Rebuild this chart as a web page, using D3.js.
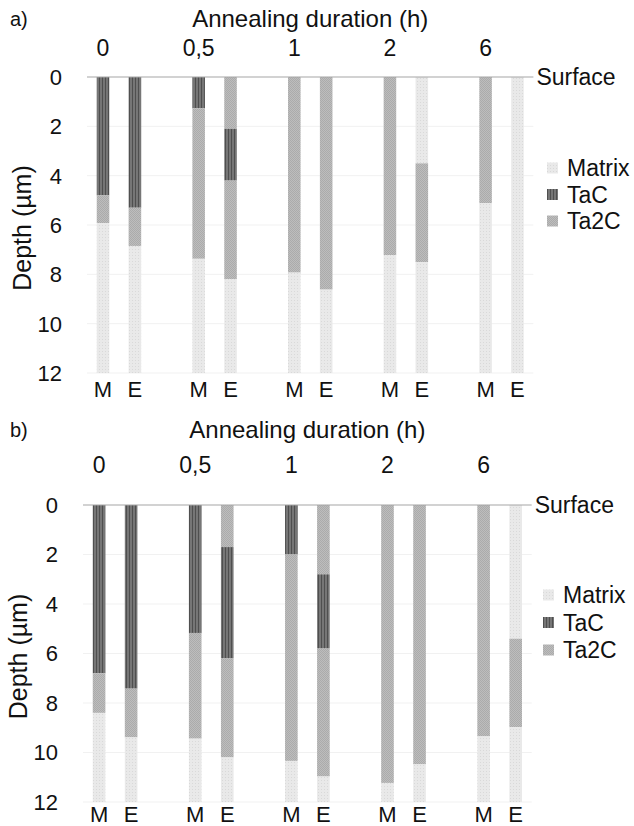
<!DOCTYPE html>
<html><head><meta charset="utf-8">
<script src="https://cdn.jsdelivr.net/npm/d3@7"></script>
<style>
body{margin:0;background:#fff;}
text{font-family:"Liberation Sans",Arial,sans-serif;fill:#111;}
</style></head>
<body><svg id="c" width="634" height="826"></svg>
<script>
// ---- data ----
const groups = ["0", "0,5", "1", "2", "6"];
const barLabels = ["M", "E"];
const depthTicks = [0, 2, 4, 6, 8, 10, 12];
const phases = ["Matrix", "TaC", "Ta2C"];
// layer thicknesses (µm), bars in order M0,E0,M0.5,E0.5,M1,E1,M2,E2,M6,E6 (top to bottom)
const a_matrixTop = [0, 0, 0, 0, 0, 0, 0, 3.5, 0, 12];
const a_ta2cTop   = [0, 0, 0, 2.1, 0, 0, 0, 0, 0, 0];
const a_tac       = [4.8, 5.3, 1.27, 2.1, 0, 0, 0, 0, 0, 0];
const a_ta2c      = [1.12, 1.55, 6.1, 4.0, 7.93, 8.62, 7.22, 4.0, 5.12, 0];
const a_matrix    = [6.08, 5.15, 4.63, 3.8, 4.07, 3.38, 4.78, 4.5, 6.88, 0];

const b_matrixTop = [0, 0, 0, 0, 0, 0, 0, 0, 0, 5.4];
const b_ta2cTop   = [0, 0, 0, 1.7, 0, 2.8, 0, 0, 0, 0];
const b_tac       = [6.8, 7.42, 5.17, 4.5, 2.0, 3.0, 0, 0, 0, 0];
const b_ta2c      = [1.6, 1.97, 4.27, 4.0, 8.34, 5.17, 11.23, 10.48, 9.35, 3.58];
const b_matrix    = [3.6, 2.61, 2.56, 1.8, 1.66, 1.03, 0.77, 1.52, 2.65, 3.02];

const layerKeys = ["matrixTop", "ta2cTop", "tac", "ta2c", "matrix"];
const layerPhase = {matrixTop: "Matrix", ta2cTop: "Ta2C", tac: "TaC", ta2c: "Ta2C", matrix: "Matrix"};

// ---- patterns ----
const svg = d3.select("#c");
const defs = svg.append("defs");
function pat(id, base, w, h, draw) {
  const p = defs.append("pattern").attr("id", id).attr("patternUnits", "userSpaceOnUse")
    .attr("width", w).attr("height", h);
  p.append("rect").attr("width", w).attr("height", h).attr("fill", base);
  draw(p);
}
pat("pMatrix", "#e9e9e9", 3, 3, p => p.append("rect").attr("width", 1).attr("height", 1).attr("fill", "#d9d9d9"));
pat("pTaC", "#767676", 3, 3, p => p.append("rect").attr("width", 1).attr("height", 3).attr("fill", "#4f4f4f"));
pat("pTa2C", "#bdbdbd", 2, 2, p => {
  p.append("rect").attr("width", 1).attr("height", 1).attr("fill", "#ababab");
  p.append("rect").attr("x", 1).attr("y", 1).attr("width", 1).attr("height", 1).attr("fill", "#ababab");
});
const fillOf = {Matrix: "url(#pMatrix)", TaC: "url(#pTaC)", Ta2C: "url(#pTa2C)"};

function buildRows(arrs) {
  const rows = [];
  groups.forEach((g, gi) => barLabels.forEach((b, bi) => {
    const i = gi * 2 + bi, r = {slot: b + "_" + g};
    layerKeys.forEach((k, ki) => r[k] = arrs[ki][i]);
    rows.push(r);
  }));
  return rows;
}

function panel(cfg) {
  const slots = [];
  groups.forEach(g => { slots.push("gap_" + g); barLabels.forEach(b => slots.push(b + "_" + g)); });
  const x = d3.scaleBand().domain(slots).range([cfg.x0, cfg.x1]).paddingInner(0.606).paddingOuter(0.303);
  const y = d3.scaleLinear().domain([0, 12]).range([cfg.y0, cfg.y1]);
  const g = svg.append("g");

  // gridlines
  g.selectAll("line.grid").data(depthTicks.filter(d => d > 0)).join("line")
    .attr("x1", cfg.lineStart).attr("x2", cfg.x1).attr("y1", d => y(d)).attr("y2", d => y(d))
    .attr("stroke", "#f1f1f1").attr("stroke-width", 1);

  // bars
  const rows = buildRows(cfg.data);
  const stack = d3.stack().keys(layerKeys)(rows);
  stack.forEach(layer => {
    g.selectAll(null).data(layer.filter(d => d[1] - d[0] > 0)).join("rect")
      .attr("x", d => x(d.data.slot)).attr("width", x.bandwidth())
      .attr("y", d => y(d[0])).attr("height", d => y(d[1]) - y(d[0]))
      .attr("fill", fillOf[layerPhase[layer.key]]);
  });

  // surface line
  g.append("line").attr("x1", cfg.lineStart).attr("x2", cfg.x1).attr("y1", y(0)).attr("y2", y(0))
    .attr("stroke", "#a6a6a6").attr("stroke-width", 1.2);
  g.append("text").attr("x", cfg.x1 + 3).attr("y", y(0)).attr("dy", "0.35em")
    .style("font-size", "23px").text("Surface");

  // y ticks
  g.selectAll("text.yt").data(depthTicks).join("text")
    .attr("x", cfg.tickX).attr("y", d => y(d)).attr("dy", "0.36em").attr("text-anchor", "end")
    .style("font-size", "22px").text(d => d);
  g.append("text").attr("transform", `translate(${cfg.depthX},${(y(0) + y(12)) / 2 + 3}) rotate(-90)`)
    .attr("text-anchor", "middle").attr("dy", "0.35em").style("font-size", "25px").text("Depth (µm)");

  // bar labels M/E
  g.selectAll("text.xl").data(rows).join("text")
    .attr("x", d => x(d.slot) + x.bandwidth() / 2).attr("y", y(12) + cfg.barLabGap).attr("text-anchor", "middle")
    .style("font-size", "22px").text(d => d.slot.split("_")[0]);

  // group labels (annealing durations)
  g.selectAll("text.gl").data(groups).join("text")
    .attr("x", d => x("M_" + d) + x.bandwidth() / 2).attr("y", y(0) - cfg.groupGap).attr("text-anchor", "middle")
    .style("font-size", "23px").text(d => d);
  g.append("text").attr("x", (x("M_" + groups[0]) + x("E_" + groups[4]) + x.bandwidth()) / 2)
    .attr("y", y(0) - cfg.titleGap).attr("text-anchor", "middle").style("font-size", "24px")
    .text("Annealing duration (h)");
  g.append("text").attr("x", cfg.tagX).attr("y", y(0) - cfg.titleGap - 1).style("font-size", "20px").text(cfg.tag);

  // legend
  const lg = g.append("g").attr("transform", `translate(${cfg.legX},${cfg.legY})`);
  phases.forEach((p, i) => {
    lg.append("rect").attr("x", 0).attr("y", i * cfg.legStep - 5.5).attr("width", 11).attr("height", 11).attr("fill", fillOf[p]);
    lg.append("text").attr("x", 20).attr("y", i * cfg.legStep).attr("dy", "0.35em").style("font-size", "23px").text(p);
  });
}

panel({data: [a_matrixTop, a_ta2cTop, a_tac, a_ta2c, a_matrix], x0: 55.2, x1: 533.4, y0: 77, y1: 373,
  lineStart: 87, tickX: 62, depthX: 22, groupGap: 21, titleGap: 50, barLabGap: 24, tag: "a)", tagX: 10,
  legX: 547, legY: 168, legStep: 26.5});
panel({data: [b_matrixTop, b_ta2cTop, b_tac, b_ta2c, b_matrix], x0: 51, x1: 531.7, y0: 505, y1: 802,
  lineStart: 83, tickX: 58, depthX: 18, groupGap: 32, titleGap: 67, barLabGap: 20, tag: "b)", tagX: 10,
  legX: 543, legY: 595, legStep: 27.5});
</script></body></html>
